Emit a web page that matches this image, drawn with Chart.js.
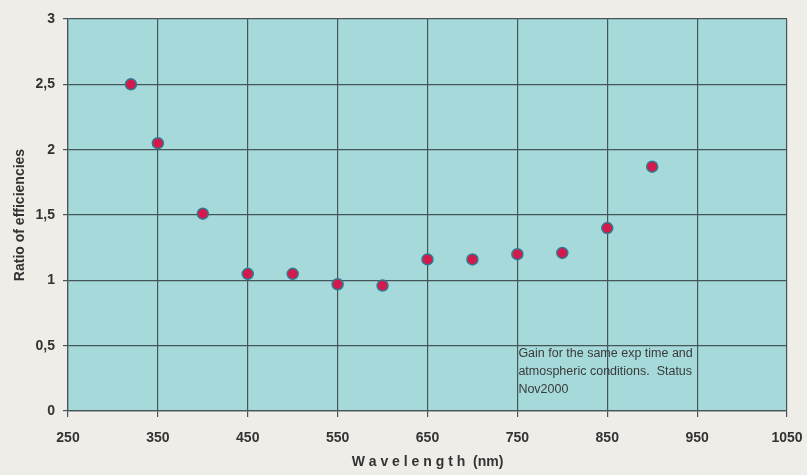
<!DOCTYPE html>
<html>
<head>
<meta charset="utf-8">
<script src="https://cdn.jsdelivr.net/npm/chart.js@4.4.1/dist/chart.umd.min.js"></script>
<style>
  html, body { margin: 0; padding: 0; background: #efede8; }
  #wrap { width: 807px; height: 475px; position: relative; }
</style>
</head>
<body>
<div id="wrap"><canvas id="scatterChart" width="807" height="475"></canvas></div>
<script>

// wavelengths (nm) and efficiency ratio
var wavelengths = [320, 350, 400, 450, 500, 550, 600, 650, 700, 750, 800, 850, 900];
var ratios = [2.5, 2.05, 1.51, 1.05, 1.05, 0.97, 0.96, 1.16, 1.16, 1.2, 1.21, 1.4, 1.87];

var xTicks = [250, 350, 450, 550, 650, 750, 850, 950, 1050];
var yTicks = [0, 0.5, 1, 1.5, 2, 2.5, 3];

var noteLines = [
    "Gain for the same exp time and",
    "atmospheric conditions.  Status",
    "Nov2000"
];

var points = wavelengths.map(function (w, i) {
    return { x: w, y: ratios[i] };
});

// teal plot area
var plotBackground = {
    id: "plotBackground",
    beforeDraw: function (chart) {
        var a = chart.chartArea;
        var ctx = chart.ctx;
        ctx.save();
        ctx.fillStyle = "#a6dada";
        ctx.fillRect(a.left, a.top, a.right - a.left, a.bottom - a.top);
        ctx.restore();
    }
};

// small note inside the plot
var noteText = {
    id: "noteText",
    afterDatasetsDraw: function (chart) {
        var ctx = chart.ctx;
        var xs = chart.scales.x;
        var ys = chart.scales.y;
        var left = xs.getPixelForValue(750) + 1;
        var top = ys.getPixelForValue(0.5) + 2;
        ctx.save();
        ctx.fillStyle = "#3a3a3a";
        ctx.font = "12.5px 'Liberation Sans', Arial, sans-serif";
        ctx.textBaseline = "top";
        noteLines.forEach(function (t, i) {
            ctx.fillText(t, left, top + i * 18);
        });
        ctx.restore();
    }
};

var ctx = document.getElementById("scatterChart");

new Chart(ctx, {
    type: "scatter",

    data: {
        datasets: [
            {
                label: "Ratio",
                data: points,
                pointRadius: 5.5,
                pointHoverRadius: 5.5,
                pointBackgroundColor: "#d41a4c",
                pointBorderColor: "#2e7c92",
                pointBorderWidth: 1.5
            }
        ]
    },

    options: {
        responsive: false,
        animation: false,
        layout: {
            padding: { left: 8, right: 20, top: 19, bottom: 0 }
        },
        plugins: {
            legend: { display: false },
            tooltip: { enabled: false }
        },
        scales: {
            x: {
                type: "linear",
                min: 250,
                max: 1050,
                afterBuildTicks: function (scale) {
                    scale.ticks = xTicks.map(function (v) { return { value: v }; });
                },
                afterFit: function (scale) {
                    scale.height = 64;
                    scale.paddingRight = 0;
                    scale.paddingLeft = 0;
                },
                grid: {
                    color: "#46555a",
                    lineWidth: 1.2,
                    tickLength: 6
                },
                border: { color: "#46555a", width: 1.2 },
                ticks: {
                    color: "#333",
                    font: { family: "'Liberation Sans', Arial, sans-serif", size: 14, weight: "bold" },
                    padding: 13,
                    callback: function (v) {
                        return String(v);
                    }
                },
                title: {
                    display: true,
                    text: "W a v e l e n g t h  (nm)",
                    color: "#333",
                    font: { family: "'Liberation Sans', Arial, sans-serif", size: 14, weight: "bold" },
                    padding: { top: 3 }
                }
            },
            y: {
                min: 0,
                max: 3,
                afterBuildTicks: function (scale) {
                    scale.ticks = yTicks.map(function (v) { return { value: v }; });
                },
                afterFit: function (scale) {
                    scale.width = 60;
                },
                grid: {
                    color: "#46555a",
                    lineWidth: 1.2,
                    tickLength: 5
                },
                border: { color: "#46555a", width: 1.2 },
                ticks: {
                    color: "#333",
                    font: { family: "'Liberation Sans', Arial, sans-serif", size: 14, weight: "bold" },
                    padding: 8,
                    callback: function (v) {
                        return String(v).replace(".", ",");
                    }
                },
                title: {
                    display: true,
                    text: "Ratio of efficiencies",
                    color: "#333",
                    font: { family: "'Liberation Sans', Arial, sans-serif", size: 14, weight: "bold" },
                    padding: { bottom: 0 }
                }
            }
        }
    },

    plugins: [plotBackground, noteText]
});

</script>
</body>
</html>
